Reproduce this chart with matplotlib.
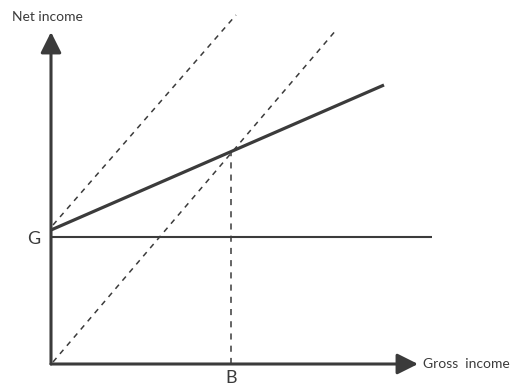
import matplotlib.pyplot as plt
import numpy as np

plt.rcParams['font.family'] = ['Lato', 'DejaVu Sans']

# Datos (unidades del diagrama, origen en el cruce de los ejes)
G = 127                      # nivel del ingreso garantizado
B = 180                      # punto de equilibrio
gross_net = [0, 333]         # ingreso bruto, linea gruesa
net_line = [134, 279]        # ingreso neto, linea gruesa
gross_45g = [2, 185]         # linea punteada desde G
net_45g = [139, 349]
gross_45 = [2, 286]          # linea punteada desde el origen
net_45 = [2, 335]
g_end = 381                  # fin de la linea horizontal G
b_top = 212                  # altura de la vertical en B

col = '#3b3b3b'

fig = plt.figure(figsize=(5.14, 3.85), dpi=100)
ax = fig.add_axes([0, 0, 1, 1])
ax.set_xlim(-51, 463)
ax.set_ylim(-21, 364)
ax.axis('off')

# Ejes con flechas
ax.annotate('', xy=(367, 0), xytext=(0, 0),
            arrowprops=dict(arrowstyle='-|>,head_length=0.9,head_width=0.45',
                            color=col, lw=2.2, shrinkA=0, shrinkB=0, mutation_scale=14))
ax.annotate('', xy=(0, 332), xytext=(0, 0),
            arrowprops=dict(arrowstyle='-|>,head_length=0.9,head_width=0.45',
                            color=col, lw=2.2, shrinkA=0, shrinkB=0, mutation_scale=14))

# Lineas
ax.plot([0, g_end], [G, G], color=col, lw=1.5, solid_capstyle='butt')
ax.plot(gross_net, net_line, color=col, lw=2.3, solid_capstyle='butt')
ax.plot(gross_45g, net_45g, color=col, lw=1.1, linestyle=(0, (3.5, 3.5)))
ax.plot(gross_45, net_45, color=col, lw=1.1, linestyle=(0, (3.5, 3.5)))
ax.plot([B, B], [0, b_top], color=col, lw=1.1, linestyle=(0, (4, 4)))

# Textos
ax.text(-39, 347, 'Net income', fontsize=10, color=col, ha='left', va='center')
ax.text(372, 0, 'Gross  income', fontsize=10, color=col, ha='left', va='center')
ax.text(-17, G - 2, 'G', fontsize=13, color=col, ha='center', va='center')
ax.text(B, -14, 'B', fontsize=13, color=col, ha='center', va='center')

fig.savefig('out.png', dpi=100)
